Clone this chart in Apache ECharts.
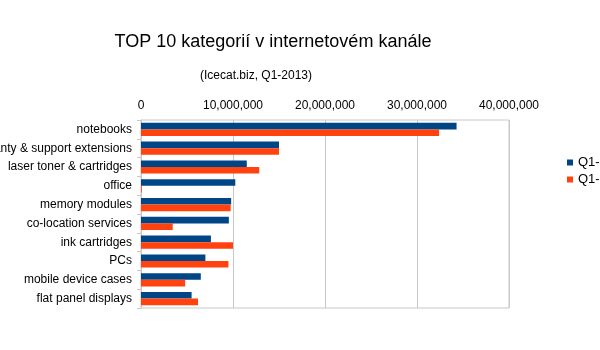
<!DOCTYPE html>
<html><head><meta charset="utf-8">
<script src="https://cdn.jsdelivr.net/npm/echarts@6/dist/echarts.min.js"></script>
<style>html,body{margin:0;padding:0;background:#fff}#c{width:600px;height:350px}</style>
</head><body><div id="c"></div>
<script>
const categories = ["notebooks","warranty & support extensions","laser toner & cartridges","office","memory modules","co-location services","ink cartridges","PCs","mobile device cases","flat panel displays"];
const seriesNames = ["Q1-2012","Q1-2013"];
const q2012 = [34300000,15000000,11500000,10250000,9800000,9550000,7600000,7000000,6500000,5500000];
const q2013 = [32400000,15000000,12850000,80000,9750000,3450000,10000000,9500000,4800000,6200000];
const titleText = "TOP 10 kategorií v internetovém kanále";
const subtitleText = "(Icecat.biz, Q1-2013)";

const chart = echarts.init(document.getElementById('c'), null, {renderer:'canvas'});
const font = "Liberation Sans, Arial, sans-serif";
chart.setOption({
  animation:false,
  backgroundColor:'#fff',
  title:[
    {text:titleText,left:268,top:28,textAlign:'center',textStyle:{fontFamily:font,fontSize:18,fontWeight:'normal',color:'#000'}},
    {text:subtitleText,left:251,top:65,textAlign:'center',textStyle:{fontFamily:font,fontSize:12,fontWeight:'normal',color:'#000'}}
  ],
  legend:{orient:'vertical',left:567,top:156,padding:0,itemWidth:6,itemHeight:6,itemGap:4,icon:'rect',
    textStyle:{fontFamily:font,fontSize:13,color:'#000',lineHeight:13},data:seriesNames},
  grid:{left:141,right:91,top:120,bottom:42,show:true,borderColor:'#c8c8c8',borderWidth:1,containLabel:false,outerBoundsMode:'none'},
  xAxis:{type:'value',position:'top',min:0,max:40000000,interval:10000000,
    axisLine:{show:false},axisTick:{show:false},
    splitLine:{show:true,lineStyle:{color:'#c8c8c8',width:1}},
    axisLabel:{fontFamily:font,fontSize:12,color:'#000',margin:8,formatter:v=>v.toLocaleString('en-US')}},
  yAxis:{type:'category',inverse:true,data:categories,
    axisLine:{show:true,lineStyle:{color:'#c8c8c8'}},
    axisTick:{show:true,length:4,lineStyle:{color:'#c8c8c8'}},
    axisLabel:{fontFamily:font,fontSize:12,color:'#000',margin:9}},
  series:[
    {name:seriesNames[0],type:'bar',data:q2012,itemStyle:{color:'#004586'},barGap:'0%',barCategoryGap:'30%'},
    {name:seriesNames[1],type:'bar',data:q2013,itemStyle:{color:'#ff420e'},barGap:'0%',barCategoryGap:'30%'}
  ]
});
</script></body></html>
